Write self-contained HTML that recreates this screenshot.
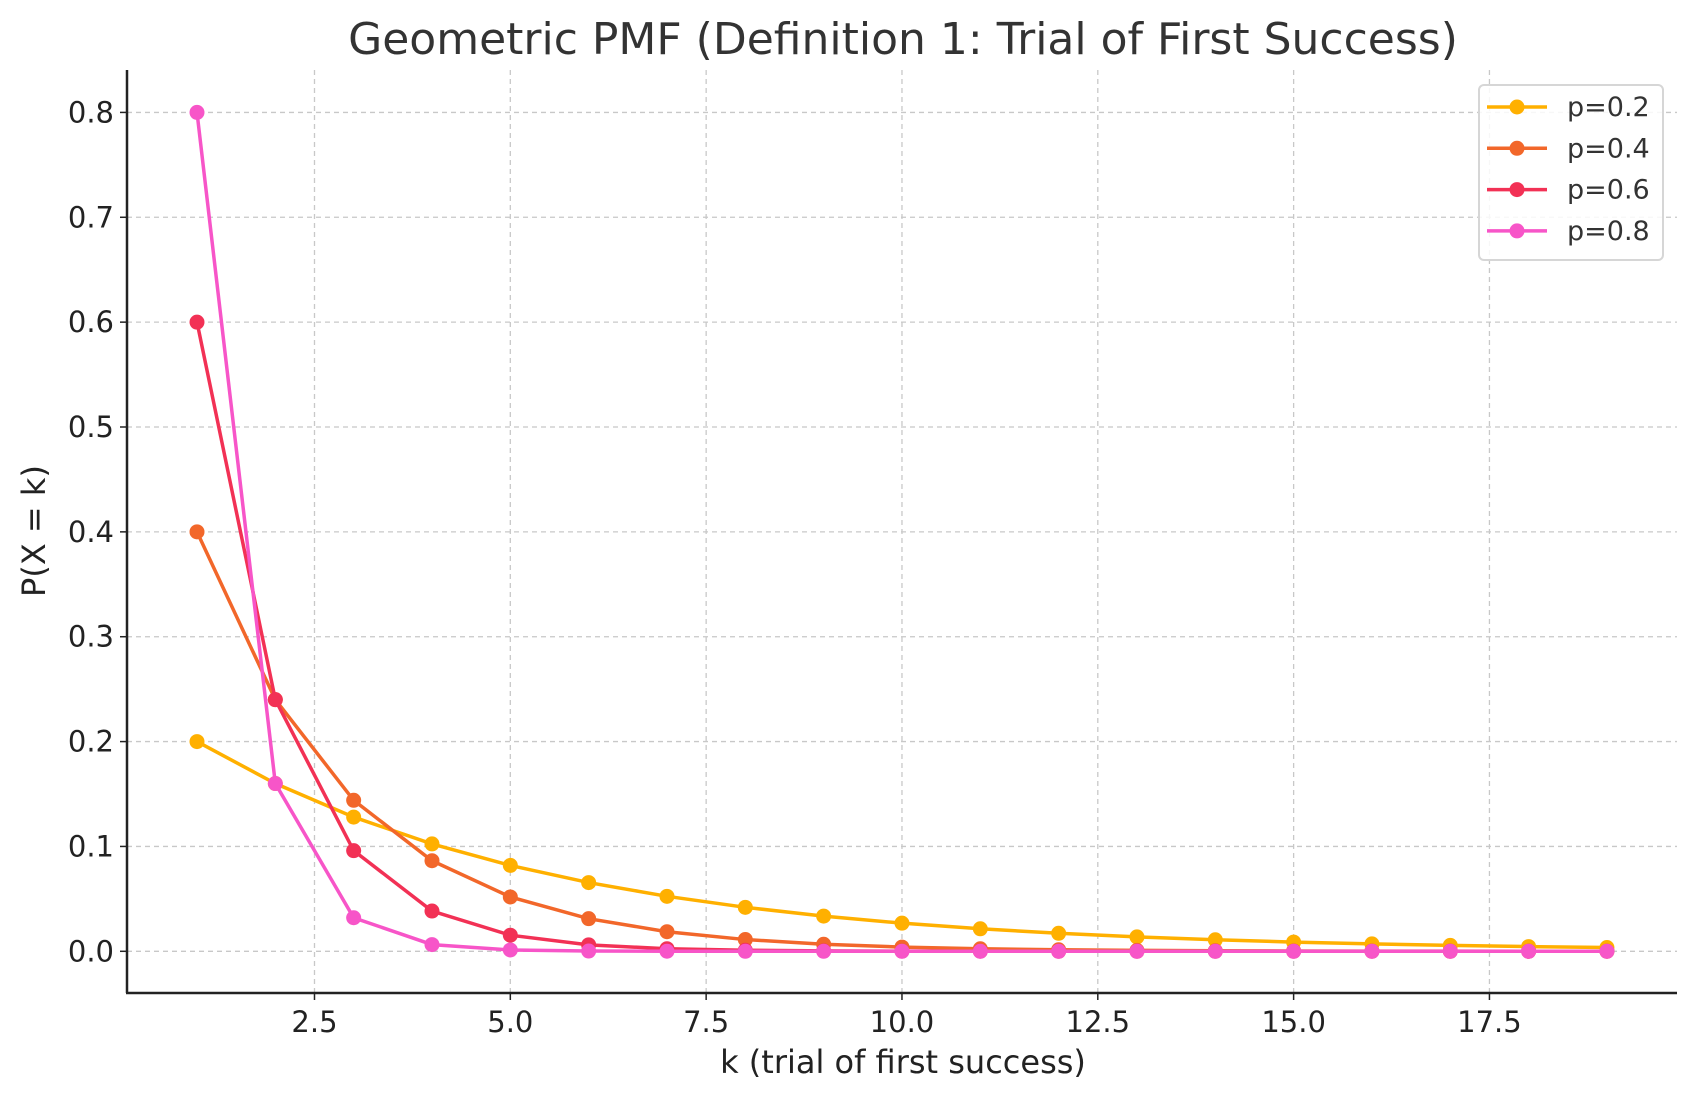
<!DOCTYPE html>
<html><head><meta charset="utf-8"><style>
body{margin:0;background:#fff;}
svg{display:block;font-family:"DejaVu Sans","Liberation Sans",sans-serif;}
</style></head><body>
<svg id="s" width="1697" height="1101" xmlns="http://www.w3.org/2000/svg">
<rect width="1697" height="1101" fill="#fff"/>
<g id="grid" stroke="#c8c8c8" stroke-width="1.3" stroke-dasharray="5,4"></g>
<g id="series"></g>
<line x1="127" y1="70" x2="127" y2="993" stroke="#222" stroke-width="2.5"/>
<line x1="126" y1="993" x2="1677" y2="993" stroke="#222" stroke-width="2.5"/>
<g id="ticks" fill="#222" font-size="29"></g>
<text x="903" y="54" text-anchor="middle" font-size="44" fill="#333">Geometric PMF (Definition 1: Trial of First Success)</text>
<text x="903" y="1073" text-anchor="middle" font-size="32" fill="#222">k (trial of first success)</text>
<text transform="translate(45,531) rotate(-90)" text-anchor="middle" font-size="32" fill="#222">P(X = k)</text>
<rect x="1479" y="85" width="184" height="175" rx="5" fill="#fff" fill-opacity="0.85" stroke="#d6d6d6" stroke-width="2"/>
<g id="legend" font-size="27" fill="#333"></g>
</svg>
<script>
const X=k=>197+(k-1)*78.33, Y=v=>951.3-v*1048.6;
const ns="http://www.w3.org/2000/svg";
function el(p,t,a,txt){const e=document.createElementNS(ns,t);for(const k in a)e.setAttribute(k,a[k]);if(txt!=null)e.textContent=txt;document.getElementById(p).appendChild(e);}
[2.5,5,7.5,10,12.5,15,17.5].forEach(v=>{const x=X(v);el("grid","line",{x1:x,y1:70,x2:x,y2:992});
el("ticks","line",{x1:x,y1:993,x2:x,y2:1000,stroke:"#222","stroke-width":1.5});
el("ticks","text",{x:x,y:1032,"text-anchor":"middle"},v.toFixed(1));});
for(let i=0;i<=8;i++){const v=i/10,y=Y(v);el("grid","line",{x1:127,y1:y,x2:1677,y2:y});
el("ticks","line",{x1:120,y1:y,x2:127,y2:y,stroke:"#222","stroke-width":1.5});
el("ticks","text",{x:114,y:y+10,"text-anchor":"end"},v.toFixed(1));}
const S=[[0.2,"#FFB000"],[0.4,"#F2672A"],[0.6,"#F23155"],[0.8,"#F755C8"]];
S.forEach(([p,c],j)=>{let pts=[];for(let k=1;k<=19;k++)pts.push([X(k),Y(Math.pow(1-p,k-1)*p)]);
el("series","polyline",{points:pts.map(a=>a.join(",")).join(" "),fill:"none",stroke:c,"stroke-width":3.5});
pts.forEach(a=>el("series","circle",{cx:a[0],cy:a[1],r:7.5,fill:c}));
const ly=107+j*41.3;el("legend","line",{x1:1487,y1:ly,x2:1547,y2:ly,stroke:c,"stroke-width":3.5});
el("legend","circle",{cx:1517,cy:ly,r:7.5,fill:c});el("legend","text",{x:1567,y:ly+9},"p="+p);});
</script>
</body></html>
